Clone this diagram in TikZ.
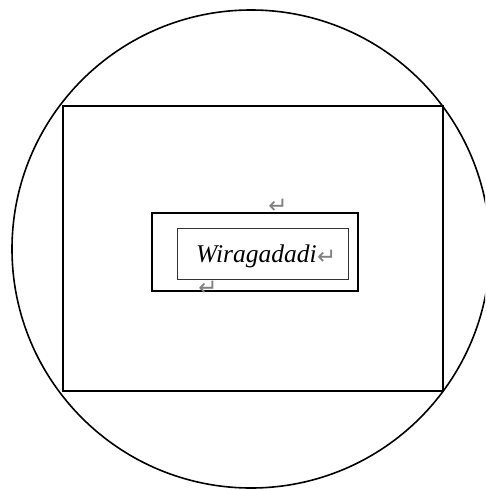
\documentclass[tikz,border=0pt]{standalone}
\usepackage{fontspec}
\setmainfont{Liberation Serif}
\newfontfamily\symfont{DejaVu Sans}
\begin{document}
\begin{tikzpicture}[x=1pt,y=-1pt,
  frame/.style={draw=black,line width=2pt},
  midframe/.style={draw=black,line width=2pt},
  innerframe/.style={draw=black!80,line width=1pt},
  retmark/.style={text=black!50,font=\symfont\fontsize{23}{23}\selectfont,inner sep=0pt}]
\useasboundingbox (0,0) rectangle (485,490);
\clip (0,0) rectangle (485,490);
\fill[white] (0,0) rectangle (485,490);
\draw[line width=1.6pt] (251,249) circle[radius=239];
\draw[frame] (63,106) rectangle (443,391);
\draw[midframe] (152,213) rectangle (358,291);
\draw[innerframe] (177,228) rectangle (348,279);
\node[inner sep=0pt,anchor=base west,font=\itshape\fontsize{25.5}{25.5}\selectfont] (word) at (196,262) {Wiragadadi};
\node[retmark,anchor=west] (r1) at ([yshift=-1pt]word.east) {↵};
\node[retmark] (r2) at (278,206) {↵};
\node[retmark] (r3) at (208,288) {↵};
\end{tikzpicture}
\end{document}
